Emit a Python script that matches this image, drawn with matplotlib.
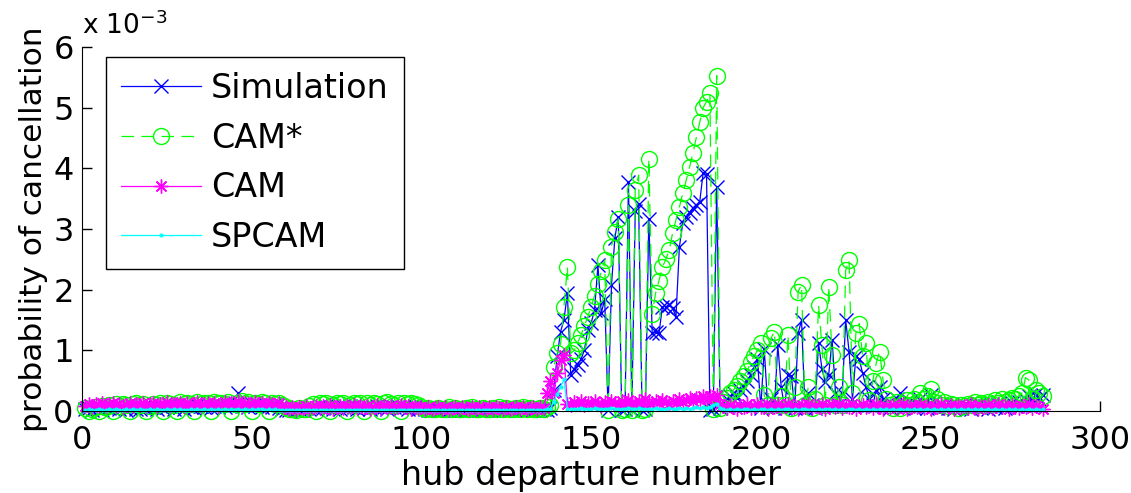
import numpy as np
import matplotlib.pyplot as plt

# values are in units of 1e-3, departure numbers run 1..283
sim_a = [0.03, 0.05, 0.02, 0.06, 0.04, 0.02, 0.07, 0.05, 0.03, 0.08, 0.04, 0.06, 0.02, 0.05, 0.09, 0.04, 0.03, 0.07, 0.05, 0.08,
         0.06, 0.04, 0.09, 0.05, 0.07, 0.10, 0.04, 0.08, 0.06, 0.03, 0.09, 0.07, 0.05, 0.10, 0.08, 0.06, 0.11, 0.05, 0.09, 0.07,
         0.10, 0.06, 0.12, 0.08, 0.14, 0.29, 0.09, 0.12, 0.07, 0.11, 0.08, 0.10, 0.06, 0.12, 0.09, 0.07, 0.11, 0.05, 0.03, 0.02,
         0.02, 0.04, 0.01, 0.03, 0.02, 0.05, 0.03, 0.06, 0.04, 0.08, 0.05, 0.09, 0.06, 0.03, 0.07, 0.04, 0.08, 0.05, 0.09, 0.06,
         0.04, 0.07, 0.05, 0.08, 0.03, 0.06, 0.09, 0.05, 0.07, 0.04, 0.08, 0.06, 0.09, 0.05, 0.07, 0.03, 0.06, 0.08, 0.04, 0.06,
         0.03, 0.02, 0.04, 0.02, 0.03, 0.01, 0.03, 0.02, 0.04, 0.02, 0.03, 0.01, 0.02, 0.04, 0.02, 0.03, 0.01, 0.03, 0.02, 0.04,
         0.02, 0.03, 0.01, 0.02, 0.04, 0.02, 0.03, 0.01, 0.02, 0.03, 0.02, 0.04, 0.01, 0.03, 0.02, 0.03, 0.02]
sim_b = [0.05, 0.35, 0.90, 1.31, 1.50, 1.94, 0.60, 0.70, 0.76, 0.85, 1.00, 1.33, 1.45, 1.66, 2.40, 1.61, 1.85, 0.02, 2.08, 2.85,
         3.20, 0.02, 0.03, 3.78, 0.02, 3.30, 3.42, 0.02, 0.03, 3.17, 1.28, 1.30, 1.28, 1.72, 1.72, 1.75, 1.70, 1.55, 2.70, 3.10,
         3.20, 3.27, 3.35, 3.40, 3.45, 3.92, 3.90, 0.02, 0.03, 3.70]
sim_c = [0.05, 0.10, 0.20, 0.25, 0.30, 0.22, 0.35, 0.40, 0.50, 0.60, 0.73, 0.85, 0.05, 1.03, 0.10, 0.20, 0.05, 1.09, 0.40, 0.05,
         0.60, 0.57, 0.05, 1.28, 1.50, 0.05, 0.30, 0.10, 0.05, 1.12, 0.70, 0.48, 0.60, 1.17, 0.30, 0.10, 0.29, 1.50, 0.98, 0.20,
         0.90, 0.85, 0.62, 0.40, 0.20, 0.10, 0.35, 0.40, 0.20, 0.10, 0.05, 0.10, 0.20, 0.29, 0.05, 0.10, 0.15, 0.05, 0.10, 0.20,
         0.12, 0.05, 0.27, 0.15, 0.05, 0.10, 0.08, 0.05, 0.12, 0.04, 0.08, 0.05, 0.10, 0.06, 0.03, 0.08, 0.10, 0.05, 0.09, 0.04,
         0.10, 0.06, 0.12, 0.08, 0.05, 0.10, 0.14, 0.08, 0.15, 0.10, 0.18, 0.25, 0.12, 0.28, 0.20, 0.26]

cams_a = [0.05, 0.00, 0.04, 0.06, 0.00, 0.08, 0.06, 0.10, 0.00, 0.11, 0.08, 0.12, 0.10, 0.00, 0.11, 0.13, 0.10, 0.12, 0.00, 0.09,
          0.12, 0.10, 0.13, 0.00, 0.14, 0.12, 0.10, 0.00, 0.15, 0.12, 0.14, 0.11, 0.00, 0.15, 0.12, 0.14, 0.13, 0.00, 0.15, 0.13,
          0.14, 0.12, 0.15, 0.00, 0.11, 0.14, 0.16, 0.12, 0.15, 0.00, 0.14, 0.12, 0.15, 0.13, 0.00, 0.14, 0.12, 0.13, 0.10, 0.06,
          0.03, 0.04, 0.02, 0.05, 0.03, 0.04, 0.08, 0.12, 0.00, 0.13, 0.11, 0.14, 0.00, 0.10, 0.13, 0.11, 0.14, 0.00, 0.10, 0.13,
          0.11, 0.14, 0.00, 0.13, 0.10, 0.14, 0.12, 0.00, 0.13, 0.15, 0.12, 0.10, 0.14, 0.00, 0.13, 0.11, 0.14, 0.12, 0.10, 0.07,
          0.04, 0.05, 0.03, 0.04, 0.05, 0.03, 0.04, 0.06, 0.04, 0.05, 0.03, 0.04, 0.05, 0.04, 0.06, 0.03, 0.04, 0.05, 0.04, 0.03,
          0.05, 0.04, 0.06, 0.03, 0.05, 0.04, 0.03, 0.05, 0.04, 0.06, 0.04, 0.05, 0.03, 0.04, 0.05, 0.04, 0.06]
cams_b = [0.10, 0.73, 0.95, 1.10, 1.72, 2.38, 0.95, 1.00, 1.12, 1.25, 1.40, 1.55, 1.72, 1.90, 2.10, 2.30, 2.49, 0.02, 2.71, 2.95,
          3.17, 0.02, 0.03, 3.39, 0.02, 3.64, 3.89, 0.02, 0.03, 4.16, 1.60, 1.94, 2.15, 2.37, 2.50, 2.65, 2.93, 3.15, 3.36, 3.59,
          3.80, 4.02, 4.25, 4.51, 4.76, 5.00, 5.10, 5.24, 0.03, 5.53]
cams_c = [0.05, 0.15, 0.22, 0.30, 0.35, 0.42, 0.50, 0.58, 0.66, 0.80, 0.90, 1.00, 1.12, 0.26, 0.10, 1.20, 1.31, 0.10, 0.25, 0.10,
          1.25, 0.05, 0.40, 1.97, 2.08, 0.10, 0.40, 0.05, 0.20, 1.75, 1.09, 0.10, 2.05, 0.92, 0.10, 0.40, 0.10, 2.32, 2.49, 0.30,
          1.28, 1.44, 0.90, 1.12, 0.18, 0.50, 0.79, 0.98, 0.51, 0.20, 0.10, 0.05, 0.15, 0.05, 0.12, 0.18, 0.10, 0.20, 0.15, 0.29,
          0.20, 0.25, 0.37, 0.15, 0.20, 0.10, 0.15, 0.08, 0.12, 0.10, 0.05, 0.10, 0.08, 0.12, 0.10, 0.15, 0.10, 0.13, 0.10, 0.15,
          0.12, 0.18, 0.14, 0.20, 0.15, 0.18, 0.22, 0.20, 0.25, 0.30, 0.55, 0.51, 0.20, 0.35, 0.29, 0.25]

cam_a = [0.08, 0.11, 0.07, 0.12, 0.09, 0.13, 0.08, 0.11, 0.14, 0.09, 0.12, 0.07, 0.10, 0.13, 0.08, 0.12, 0.10, 0.14, 0.09, 0.11,
         0.13, 0.08, 0.12, 0.10, 0.15, 0.09, 0.12, 0.11, 0.14, 0.08, 0.13, 0.10, 0.12, 0.15, 0.09, 0.11, 0.14, 0.10, 0.13, 0.08,
         0.12, 0.15, 0.10, 0.13, 0.11, 0.16, 0.09, 0.14, 0.12, 0.10, 0.15, 0.11, 0.13, 0.09, 0.14, 0.12, 0.10, 0.13, 0.08, 0.06,
         0.04, 0.07, 0.03, 0.06, 0.05, 0.08, 0.04, 0.07, 0.09, 0.05, 0.08, 0.06, 0.10, 0.04, 0.07, 0.09, 0.05, 0.08, 0.06, 0.10,
         0.05, 0.08, 0.06, 0.09, 0.04, 0.07, 0.10, 0.05, 0.08, 0.06, 0.09, 0.05, 0.07, 0.10, 0.06, 0.08, 0.04, 0.07, 0.05, 0.06,
         0.04, 0.06, 0.03, 0.05, 0.07, 0.04, 0.06, 0.03, 0.05, 0.07, 0.04, 0.06, 0.05, 0.03, 0.06, 0.04, 0.07, 0.05, 0.03, 0.06,
         0.04, 0.07, 0.05, 0.03, 0.06, 0.04, 0.05, 0.07, 0.03, 0.06, 0.04, 0.05, 0.07, 0.04, 0.06, 0.05, 0.30]
cam_b = [0.50, 0.30, 0.62, 0.84, 0.92, 0.12, 0.10, 0.15, 0.12, 0.17, 0.10, 0.14, 0.11, 0.16, 0.12, 0.09, 0.15, 0.11, 0.17, 0.13,
         0.10, 0.16, 0.12, 0.18, 0.14, 0.11, 0.17, 0.13, 0.19, 0.14, 0.12, 0.16, 0.13, 0.18, 0.15, 0.12, 0.17, 0.14, 0.19, 0.15,
         0.18, 0.21, 0.17, 0.22, 0.19, 0.24, 0.20, 0.25, 0.22, 0.26]
cam_c = [0.12, 0.08, 0.05, 0.10, 0.07, 0.04, 0.09, 0.06, 0.11, 0.05, 0.08, 0.12, 0.06, 0.09, 0.04, 0.10, 0.07, 0.12, 0.05, 0.08,
         0.11, 0.06, 0.09, 0.04, 0.10, 0.07, 0.12, 0.05, 0.09, 0.06, 0.11, 0.04, 0.08, 0.10, 0.06, 0.12, 0.05, 0.09, 0.07, 0.11,
         0.04, 0.08, 0.10, 0.06, 0.09, 0.05, 0.11, 0.07, 0.04, 0.09, 0.06, 0.10, 0.05, 0.08, 0.11, 0.04, 0.07, 0.09, 0.06, 0.10,
         0.05, 0.08, 0.04, 0.09, 0.06, 0.11, 0.05, 0.07, 0.10, 0.04, 0.08, 0.06, 0.09, 0.05, 0.11, 0.07, 0.04, 0.09, 0.06, 0.10,
         0.05, 0.08, 0.11, 0.06, 0.09, 0.04, 0.10, 0.07, 0.05, 0.09, 0.06, 0.11, 0.05, 0.08, 0.06, 0.04]

spcam_a = [0.02, 0.03, 0.01, 0.02, 0.03, 0.02, 0.01, 0.03, 0.02, 0.03, 0.02, 0.01, 0.03, 0.02, 0.03, 0.02, 0.03, 0.01, 0.02, 0.03,
           0.02, 0.03, 0.02, 0.01, 0.03, 0.02, 0.03, 0.02, 0.03, 0.01, 0.02, 0.03, 0.02, 0.03, 0.02, 0.03, 0.01, 0.03, 0.02, 0.03,
           0.02, 0.03, 0.02, 0.03, 0.02, 0.04, 0.02, 0.03, 0.02, 0.03, 0.02, 0.03, 0.04, 0.02, 0.03, 0.02, 0.03, 0.02, 0.01, 0.02,
           0.01, 0.02, 0.01, 0.02, 0.01, 0.02, 0.01, 0.02, 0.02, 0.01, 0.02, 0.01, 0.02, 0.01, 0.02, 0.02, 0.01, 0.02, 0.01, 0.02,
           0.01, 0.02, 0.02, 0.01, 0.02, 0.01, 0.02, 0.01, 0.02, 0.01, 0.02, 0.02, 0.01, 0.02, 0.01, 0.02, 0.01, 0.02, 0.01, 0.02,
           0.01, 0.02, 0.01, 0.02, 0.01, 0.02, 0.01, 0.02, 0.01, 0.02, 0.01, 0.02, 0.01, 0.02, 0.01, 0.02, 0.01, 0.02, 0.01, 0.02,
           0.01, 0.02, 0.01, 0.02, 0.01, 0.02, 0.01, 0.02, 0.01, 0.02, 0.01, 0.02, 0.01, 0.02, 0.01, 0.02, 0.03]
spcam_b = [0.04, 0.15, 0.28, 0.40, 0.52, 0.04, 0.03, 0.04, 0.03, 0.05, 0.03, 0.04, 0.03, 0.05, 0.04, 0.03, 0.04, 0.03, 0.05, 0.04,
           0.03, 0.04, 0.03, 0.05, 0.04, 0.03, 0.05, 0.04, 0.03, 0.04, 0.03, 0.05, 0.04, 0.03, 0.04, 0.05, 0.03, 0.04, 0.05, 0.04,
           0.05, 0.04, 0.05, 0.06, 0.05, 0.06, 0.05, 0.06, 0.10, 0.12]
spcam_c = [0.05, 0.03, 0.02, 0.03, 0.02, 0.03, 0.02, 0.03, 0.04, 0.02, 0.03, 0.02, 0.03, 0.04, 0.02, 0.03, 0.02, 0.03, 0.02, 0.04,
           0.03, 0.02, 0.03, 0.02, 0.03, 0.04, 0.02, 0.03, 0.02, 0.03, 0.02, 0.03, 0.04, 0.02, 0.03, 0.02, 0.03, 0.02, 0.03, 0.04,
           0.02, 0.03, 0.02, 0.03, 0.02, 0.03, 0.02, 0.03, 0.02, 0.03, 0.02, 0.03, 0.02, 0.03, 0.02, 0.03, 0.02, 0.03, 0.02, 0.03,
           0.02, 0.03, 0.02, 0.03, 0.02, 0.03, 0.02, 0.03, 0.02, 0.03, 0.02, 0.03, 0.02, 0.03, 0.02, 0.03, 0.02, 0.03, 0.02, 0.03,
           0.02, 0.03, 0.02, 0.03, 0.02, 0.03, 0.02, 0.03, 0.02, 0.03, 0.02, 0.03, 0.02, 0.03, 0.02, 0.03]

sim = np.array(sim_a + sim_b + sim_c)
cam_star = np.array(cams_a + cams_b + cams_c)
cam = np.array(cam_a + cam_b + cam_c)
spcam = np.array(spcam_a + spcam_b + spcam_c)
x = np.arange(1, len(sim) + 1)

fig = plt.figure(figsize=(11.31, 4.93), dpi=100)
ax = fig.add_axes([0.0725, 0.1663, 0.9003, 0.7383])

lw = 0.9
ax.plot(x, sim, '-', color='#0000ff', marker='x', ms=10, mew=1.0, lw=lw, label='Simulation', clip_on=False)
ax.plot(x, cam_star, '--', color='#00ff00', marker='o', ms=11.5, mfc='none', mew=1.0, lw=lw,
        dashes=(10, 6), label='CAM*', clip_on=False)
ax.plot(x, cam, '-', color='#ff00ff', marker=(8, 2, 0), ms=10, mew=1.0, lw=lw, label='CAM', clip_on=False)
ax.plot(x, spcam, '-', color='#00ffff', marker='.', ms=4, lw=lw, label='SPCAM', clip_on=False)

ax.set_xlim(0, 300)
ax.set_ylim(0, 6)
ax.set_xticks(np.arange(0, 301, 50))
ax.set_yticks(np.arange(0, 7, 1))
ax.spines['top'].set_visible(False)
ax.spines['right'].set_visible(False)
ax.tick_params(direction='in', length=7, width=1, labelsize=23)
ax.tick_params(axis='x', pad=10)
ax.tick_params(axis='y', pad=6)

ax.set_xlabel('hub departure number', fontsize=24, labelpad=2)
ax.set_ylabel('probability of cancellation', fontsize=22.5, labelpad=4)
ax.text(0.0, 1.02, r'x 10$^{-3}$', transform=ax.transAxes, fontsize=19, ha='left', va='bottom')

leg = ax.legend(loc='upper left', bbox_to_anchor=(0.0236, 0.9725), borderaxespad=0, fontsize=24,
                numpoints=1, handlelength=2.4, handletextpad=0.3, labelspacing=0.5, borderpad=0.45,
                fancybox=False, framealpha=1, edgecolor='black')
leg.get_frame().set_linewidth(1.0)

fig.savefig('out.png', dpi=100)
